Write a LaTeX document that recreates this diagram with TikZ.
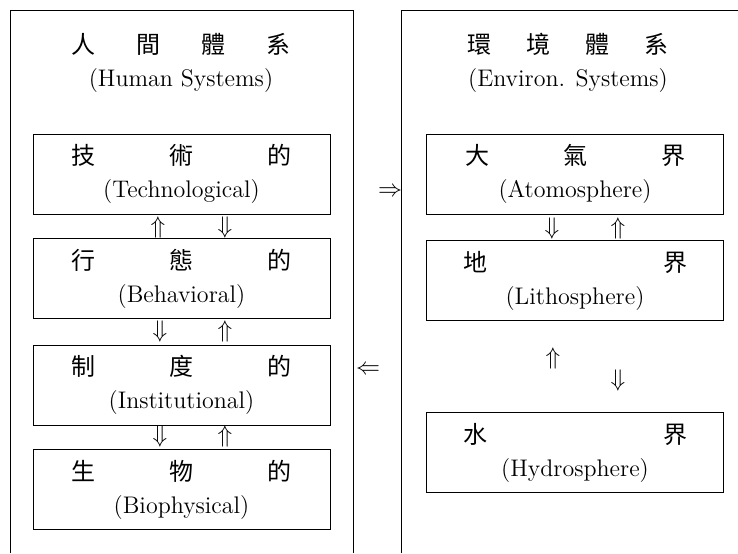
\documentclass[tikz,border=0pt]{standalone}
\usepackage{fontspec}
\newfontfamily\cjk{Noto Sans CJK TC}
\newcommand{\spreadcjk}[2]{\makebox[#1][s]{\cjk #2}}

\begin{document}
\begin{tikzpicture}[
    x=0.5pt, y=-0.5pt,
    every node/.style={font=\fontsize{12}{16.5}\selectfont},
    frame/.style={line width=0.5pt},
    title/.style={align=center, inner sep=0pt},
    box/.style={draw, line width=0.5pt, align=center, minimum width=148.5pt, minimum height=40pt, inner sep=0pt},
    dbl/.style={inner sep=0pt, font=\large}
]
    \useasboundingbox (0,0) rectangle (738,553);

    % two open frames
    \draw[frame] (10,553) -- (10,10) -- (353,10) -- (353,553);
    \draw[frame] (738,10) -- (401,10) -- (401,553);

    \node[title] (human) at (181,63) {\spreadcjk{110pt}{人\hfill 間\hfill 體\hfill 系}\\(Human Systems)};
    \node[title] (environ) at (568,63) {\spreadcjk{101pt}{環\hfill 境\hfill 體\hfill 系}\\(Environ. Systems)};

    % human systems
    \node[box] (techno) at (181.5,174) {\spreadcjk{110pt}{技\hfill 術\hfill 的}\\(Technological)};
    \node[box] (behav) at (181.5,278.5) {\spreadcjk{110pt}{行\hfill 態\hfill 的}\\(Behavioral)};
    \node[box] (instit) at (181.5,385) {\spreadcjk{110pt}{制\hfill 度\hfill 的}\\(Institutional)};
    \node[box] (biophys) at (181.5,489.5) {\spreadcjk{110pt}{生\hfill 物\hfill 的}\\(Biophysical)};

    \node[dbl] (tbup) at (158,227) {$\Uparrow$};
    \node[dbl] (tbdown) at (225,227) {$\Downarrow$};
    \node[dbl] (bidown) at (160,331) {$\Downarrow$};
    \node[dbl] (biup) at (225,331) {$\Uparrow$};
    \node[dbl] (ibdown) at (160,436) {$\Downarrow$};
    \node[dbl] (ibup) at (225,436) {$\Uparrow$};

    % environ. systems
    \node[box] (atmo) at (575,174) {\spreadcjk{110pt}{大\hfill 氣\hfill 界}\\(Atomosphere)};
    \node[box] (litho) at (575,280.5) {\spreadcjk{112pt}{地\hfill 界}\\(Lithosphere)};
    \node[box] (hydro) at (575,452.5) {\spreadcjk{112pt}{水\hfill 界}\\(Hydrosphere)};

    \node[dbl] (aldown) at (552,228) {$\Downarrow$};
    \node[dbl] (alup) at (618,228) {$\Uparrow$};
    \node[dbl] (lhup) at (553,358) {$\Uparrow$};
    \node[dbl] (lhdown) at (618,380) {$\Downarrow$};

    % between the systems
    \node[dbl] (toenv) at (390,192) {$\Rightarrow$};
    \node[dbl] (tohum) at (368,370) {$\Leftarrow$};
\end{tikzpicture}
\end{document}
